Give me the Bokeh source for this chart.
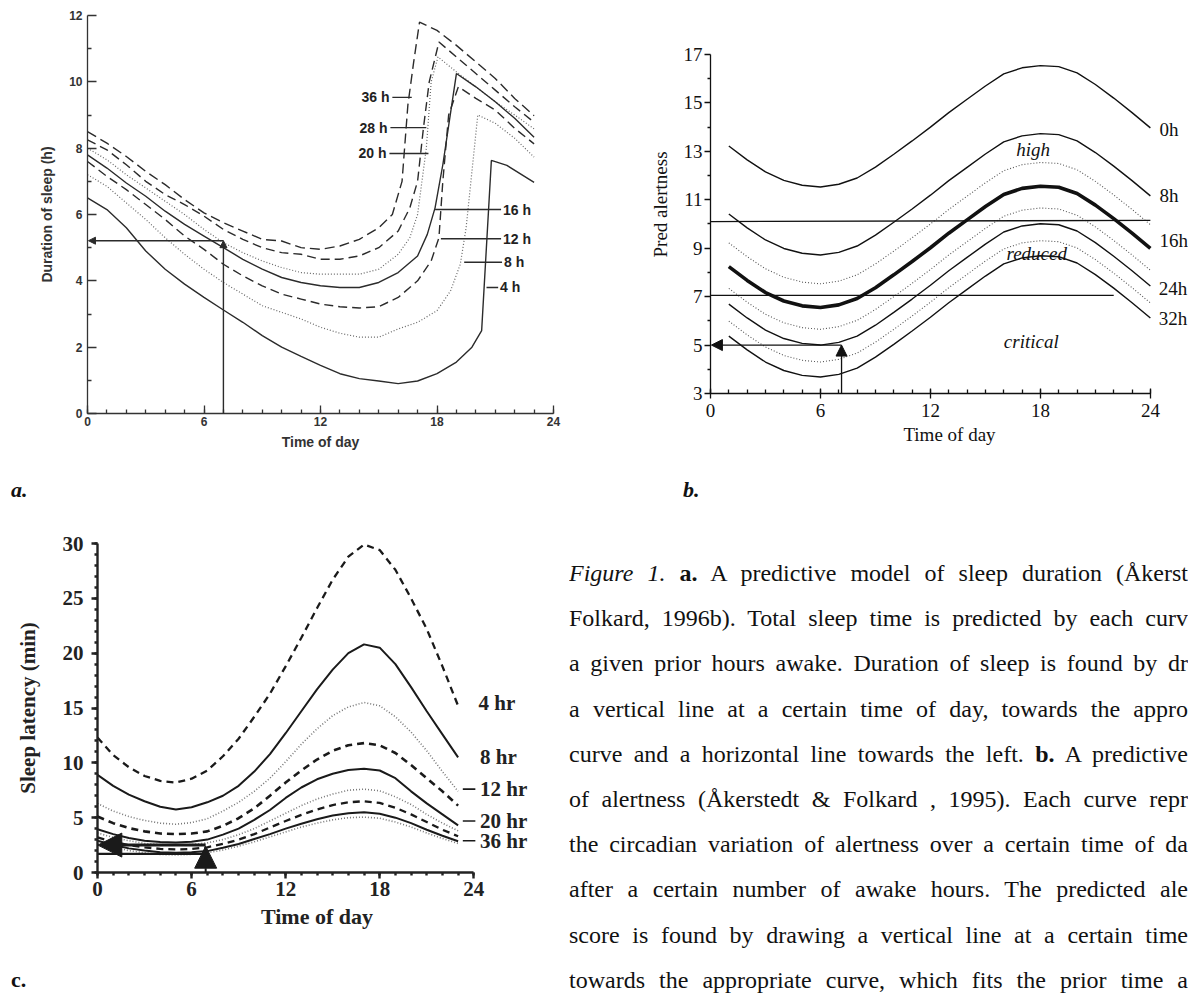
from bokeh.plotting import figure
from bokeh.models import Range1d, FixedTicker, Arrow, NormalHead, Div
from bokeh.layouts import row, column
from bokeh.embed import file_html
from bokeh.resources import INLINE
from bokeh.core.properties import value

SANS = "Liberation Sans"
SERIF = "Liberation Serif"

# ================= panel a : predicted sleep duration (h) =================
a_x_36h = [0, 1, 2, 3, 4, 5, 6, 7, 8, 9, 10, 11, 12, 13, 14, 15, 15.7, 16.2, 16.5, 16.8, 17.1, 18, 19, 20, 21, 22, 23]
a_y_36h = [8.5, 8.15, 7.75, 7.3, 6.9, 6.45, 6.05, 5.75, 5.5, 5.25, 5.2, 5.0, 4.95, 5.05, 5.25, 5.6, 6.0, 7.0, 9.3, 10.6, 11.8, 11.55, 11.1, 10.6, 10.1, 9.5, 8.98]
a_x_28h = [0, 1, 2, 3, 4, 5, 6, 7, 8, 9, 10, 11, 12, 13, 14, 15, 16, 16.6, 17.0, 17.3, 17.6, 18.1, 19, 20, 21, 22, 23]
a_y_28h = [8.25, 7.95, 7.5, 7.0, 6.6, 6.3, 5.95, 5.55, 5.25, 5.0, 4.85, 4.8, 4.65, 4.65, 4.75, 5.0, 5.5, 6.2, 7.0, 8.6, 10.0, 11.2, 10.75, 10.25, 9.75, 9.25, 8.78]
a_x_20h = [0, 1, 2, 3, 4, 5, 6, 7, 8, 9, 10, 11, 12, 13, 14, 15, 16, 16.6, 17.0, 17.45, 17.7, 18.05, 19, 20, 21, 22, 23]
a_y_20h = [8.0, 7.65, 7.2, 6.8, 6.4, 6.0, 5.55, 5.15, 4.85, 4.6, 4.4, 4.25, 4.2, 4.2, 4.2, 4.35, 4.8, 5.3, 6.0, 8.0, 10.0, 10.75, 10.3, 9.85, 9.4, 9.0, 8.58]
a_x_16h = [0, 1, 2, 3, 4, 5, 6, 7, 8, 9, 10, 11, 12, 13, 14, 15, 16, 17, 17.5, 17.9, 18.3, 19.0, 20, 21, 22, 23]
a_y_16h = [7.8, 7.4, 6.95, 6.55, 6.1, 5.7, 5.35, 5.0, 4.65, 4.35, 4.1, 3.95, 3.85, 3.8, 3.8, 3.95, 4.25, 4.75, 5.4, 6.2, 7.5, 10.25, 9.85, 9.4, 8.9, 8.33]
a_x_12h = [0, 1, 2, 3, 4, 5, 6, 7, 8, 9, 10, 11, 12, 13, 14, 15, 16, 17, 17.7, 18.1, 18.3, 18.6, 19.1, 20, 21, 22, 23]
a_y_12h = [7.6, 7.15, 6.75, 6.3, 5.85, 5.35, 4.95, 4.5, 4.15, 3.85, 3.6, 3.45, 3.3, 3.22, 3.18, 3.22, 3.5, 4.0, 4.6, 5.3, 7.0, 9.0, 9.85, 9.5, 9.15, 8.6, 8.13]
a_x_8h = [0, 1, 2, 3, 4, 5, 6, 7, 8, 9, 10, 11, 12, 13, 14, 15, 16, 17, 18, 18.7, 19.2, 19.5, 20.1, 21, 22, 23]
a_y_8h = [7.2, 6.85, 6.35, 5.85, 5.3, 4.8, 4.35, 3.95, 3.6, 3.25, 3.05, 2.85, 2.6, 2.42, 2.3, 2.3, 2.55, 2.75, 3.1, 3.7, 4.5, 5.6, 9.0, 8.75, 8.3, 7.73]
a_x_4h = [0, 1, 2, 3, 4, 5, 6, 7, 8, 9, 10, 11, 12, 13, 14, 15, 16, 17, 18, 19, 19.8, 20.3, 20.8, 21.6, 23]
a_y_4h = [6.5, 6.15, 5.6, 4.9, 4.35, 3.9, 3.5, 3.12, 2.75, 2.35, 2.0, 1.72, 1.45, 1.2, 1.05, 0.98, 0.9, 0.98, 1.2, 1.55, 2.0, 2.5, 7.63, 7.48, 6.97]
a_xticks = [0, 6, 12, 18, 24]
a_yticks = [0, 2, 4, 6, 8, 10, 12]
a_example_time = 7
a_example_sleep = 5.21

# ================= panel b : predicted alertness =================
b_hours = [1, 2, 3, 4, 5, 6, 7, 8, 9, 10, 11, 12, 13, 14, 15, 16, 17, 18, 19, 20, 21, 22, 23, 24]
b_0h = [13.22, 12.65, 12.15, 11.8, 11.6, 11.53, 11.64, 11.9, 12.35, 12.88, 13.43, 14.0, 14.6, 15.15, 15.7, 16.2, 16.45, 16.54, 16.5, 16.24, 15.76, 15.2, 14.6, 13.97]
b_8h = [10.41, 9.84, 9.34, 8.99, 8.79, 8.72, 8.83, 9.09, 9.54, 10.07, 10.62, 11.19, 11.79, 12.34, 12.89, 13.39, 13.64, 13.73, 13.69, 13.43, 12.95, 12.39, 11.79, 11.16]
b_12h = [9.22, 8.65, 8.15, 7.8, 7.6, 7.53, 7.64, 7.9, 8.35, 8.88, 9.43, 10.0, 10.6, 11.15, 11.7, 12.2, 12.45, 12.54, 12.5, 12.24, 11.76, 11.2, 10.6, 9.97]
b_16h = [8.24, 7.67, 7.17, 6.82, 6.62, 6.55, 6.66, 6.92, 7.37, 7.9, 8.45, 9.02, 9.62, 10.17, 10.72, 11.22, 11.47, 11.56, 11.52, 11.26, 10.78, 10.22, 9.62, 8.99]
b_20h = [7.34, 6.77, 6.27, 5.92, 5.72, 5.65, 5.76, 6.02, 6.47, 7.0, 7.55, 8.12, 8.72, 9.27, 9.82, 10.32, 10.57, 10.66, 10.62, 10.36, 9.88, 9.32, 8.72, 8.09]
b_24h = [6.69, 6.12, 5.62, 5.27, 5.07, 5.0, 5.11, 5.37, 5.82, 6.35, 6.9, 7.47, 8.07, 8.62, 9.17, 9.67, 9.92, 10.01, 9.97, 9.71, 9.23, 8.67, 8.07, 7.44]
b_28h = [5.99, 5.42, 4.92, 4.57, 4.37, 4.3, 4.41, 4.67, 5.12, 5.65, 6.2, 6.77, 7.37, 7.92, 8.47, 8.97, 9.22, 9.31, 9.27, 9.01, 8.53, 7.97, 7.37, 6.74]
b_32h = [5.37, 4.8, 4.3, 3.95, 3.75, 3.68, 3.79, 4.05, 4.5, 5.03, 5.58, 6.15, 6.75, 7.3, 7.85, 8.35, 8.6, 8.69, 8.65, 8.39, 7.91, 7.35, 6.75, 6.12]
b_high_level = 10.1
b_critical_level = 7.05
b_xticks = [0, 6, 12, 18, 24]
b_yticks = [3, 5, 7, 9, 11, 13, 15, 17]
b_example_time = 7.15
b_example_alert = 5.0

# ================= panel c : sleep latency (min) =================
c_hours = [0, 1, 2, 3, 4, 5, 6, 7, 8, 9, 10, 11, 12, 13, 14, 15, 16, 17, 18, 19, 20, 21, 22, 23]
c_4hr = [12.3, 10.7, 9.6, 8.8, 8.35, 8.2, 8.55, 9.3, 10.6, 12.2, 14.2, 16.3, 18.8, 21.4, 24.1, 26.7, 28.8, 29.9, 29.4, 27.6, 25.0, 22.2, 18.8, 15.2]
c_8hr = [8.9, 7.9, 7.1, 6.5, 6.0, 5.75, 5.95, 6.4, 7.0, 7.9, 9.2, 10.8, 12.7, 14.7, 16.7, 18.5, 20.0, 20.8, 20.5, 19.0, 16.9, 14.7, 12.6, 10.5]
c_12hr = [6.3, 5.6, 5.1, 4.75, 4.5, 4.4, 4.55, 4.9, 5.6, 6.4, 7.4, 8.6, 10.1, 11.7, 13.1, 14.3, 15.1, 15.5, 15.2, 14.2, 12.8, 11.1, 9.2, 7.4]
c_16hr = [5.1, 4.5, 4.05, 3.75, 3.55, 3.5, 3.55, 3.75, 4.25, 4.95, 5.85, 7.0, 8.2, 9.3, 10.3, 11.1, 11.6, 11.8, 11.6, 10.9, 9.8, 8.6, 7.4, 6.1]
c_20hr = [3.95, 3.5, 3.15, 2.9, 2.78, 2.74, 2.8, 3.0, 3.45, 4.0, 4.8, 5.7, 6.8, 7.75, 8.5, 9.0, 9.35, 9.45, 9.3, 8.6, 7.4, 6.3, 5.3, 4.3]
c_24hr = [3.6, 3.2, 2.9, 2.65, 2.55, 2.5, 2.55, 2.7, 3.0, 3.45, 4.0, 4.7, 5.4, 6.1, 6.7, 7.15, 7.5, 7.6, 7.45, 6.9, 6.2, 5.3, 4.5, 3.8]
c_28hr = [3.2, 2.8, 2.5, 2.3, 2.15, 2.1, 2.15, 2.3, 2.6, 3.0, 3.5, 4.1, 4.7, 5.25, 5.75, 6.15, 6.4, 6.5, 6.35, 5.9, 5.3, 4.6, 3.9, 3.3]
c_32hr = [2.9, 2.5, 2.2, 2.0, 1.85, 1.8, 1.85, 1.95, 2.25, 2.6, 3.05, 3.5, 4.0, 4.45, 4.85, 5.2, 5.4, 5.5, 5.35, 5.0, 4.5, 3.9, 3.35, 2.85]
c_36hr = [2.6, 2.3, 2.0, 1.8, 1.65, 1.6, 1.65, 1.8, 2.05, 2.4, 2.8, 3.25, 3.7, 4.15, 4.5, 4.8, 5.0, 5.05, 4.95, 4.6, 4.15, 3.6, 3.1, 2.65]
c_xticks = [0, 6, 12, 18, 24]
c_yticks = [0, 5, 10, 15, 20, 25, 30]
c_example_time = 6.9
c_example_latency = 2.5


def base_fig(fw, fh, xr, yr, left, right, top, bottom):
    p = figure(output_backend="svg", toolbar_location=None,
               frame_width=fw, frame_height=fh,
               x_range=Range1d(*xr), y_range=Range1d(*yr),
               min_border_left=left, min_border_right=right,
               min_border_top=top, min_border_bottom=bottom)
    p.outline_line_color = None
    p.xgrid.visible = False
    p.ygrid.visible = False
    p.background_fill_color = "white"
    p.border_fill_color = "white"
    return p


def style_axis(ax, font, tick_size, label_size, color, style, width):
    ax.major_label_text_font = font
    ax.major_label_text_font_size = tick_size
    ax.major_label_text_font_style = style
    ax.major_label_text_color = color
    ax.axis_label_text_font = font
    ax.axis_label_text_font_size = label_size
    ax.axis_label_text_font_style = style
    ax.axis_label_text_color = color
    ax.axis_line_color = color
    ax.axis_line_width = width
    ax.major_tick_line_color = color
    ax.major_tick_line_width = width
    ax.minor_tick_line_color = color
    ax.minor_tick_line_width = width


def set_ticks(ax, major, minor, mi, mo, ni, no):
    ax.ticker = FixedTicker(ticks=major, minor_ticks=minor)
    ax.major_tick_in = mi
    ax.major_tick_out = mo
    ax.minor_tick_in = ni
    ax.minor_tick_out = no


# ---------------------------------------------------------------- panel a
pa = base_fig(466, 398, (0, 24), (0, 12), 79, 77, 7, 57)
xa, ya = pa.xaxis[0], pa.yaxis[0]
style_axis(xa, SANS, "12px", "14px", "#333333", "bold", 1.3)
style_axis(ya, SANS, "12px", "14px", "#333333", "bold", 1.3)
set_ticks(xa, a_xticks, list(range(0, 25)), 8, 0, 4, 0)
set_ticks(ya, a_yticks, [1, 3, 5, 7, 9, 11], 9, 0, 4, 0)
xa.axis_label = "Time of day"
xa.major_label_standoff = 3
xa.axis_label_standoff = 5
ya.axis_label = "Duration of sleep (h)"
ya.major_label_standoff = 5
ya.axis_label_standoff = 11

A_INK = "#2b2b2b"
a_curves = [
    (a_x_36h, a_y_36h, "10 5", 1.4, A_INK),
    (a_x_28h, a_y_28h, "9 5", 1.4, A_INK),
    (a_x_20h, a_y_20h, "1 2", 1.2, "#666666"),
    (a_x_16h, a_y_16h, "solid", 1.4, A_INK),
    (a_x_12h, a_y_12h, "9 5", 1.4, A_INK),
    (a_x_8h, a_y_8h, "1 2", 1.2, "#666666"),
    (a_x_4h, a_y_4h, "solid", 1.4, A_INK),
]
for xs, ys, dash, w, col in a_curves:
    pa.line(xs, ys, line_dash=dash, line_width=w, line_color=col)

a_lab_l = ["36 h", "28 h", "20 h"]
a_lab_l_x = [15.55, 15.45, 15.4]
a_lab_l_y = [9.53, 8.62, 7.84]
a_lead_l_x0 = [15.7, 15.6, 15.55]
a_lead_l_x1 = [16.7, 17.45, 17.56]
a_lab_r = ["16 h", "12 h", "8 h", "4 h"]
a_lab_r_x = [21.4, 21.4, 21.45, 21.25]
a_lab_r_y = [6.15, 5.27, 4.56, 3.8]
a_lead_r_x0 = [17.9, 18.2, 19.4, 20.55]
a_lead_r_x1 = [21.3, 21.3, 21.35, 21.15]
pa.segment(a_lead_l_x0, a_lab_l_y, a_lead_l_x1, a_lab_l_y, line_color=A_INK, line_width=1.4)
pa.segment(a_lead_r_x0, a_lab_r_y, a_lead_r_x1, a_lab_r_y, line_color=A_INK, line_width=1.4)
pa.text(a_lab_l_x, a_lab_l_y, text=a_lab_l, text_align="right", text_baseline="middle",
        text_font=value(SANS), text_font_size="14px", text_font_style="bold", text_color="#222222")
pa.text(a_lab_r_x, a_lab_r_y, text=a_lab_r, text_align="left", text_baseline="middle",
        text_font=value(SANS), text_font_size="14px", text_font_style="bold", text_color="#222222")
pa.add_layout(Arrow(end=NormalHead(size=7, fill_color=A_INK, line_color=A_INK),
                    x_start=a_example_time, y_start=0, x_end=a_example_time, y_end=a_example_sleep,
                    line_color=A_INK, line_width=1.4))
pa.add_layout(Arrow(end=NormalHead(size=7, fill_color=A_INK, line_color=A_INK),
                    x_start=a_example_time, y_start=a_example_sleep, x_end=0.05, y_end=a_example_sleep,
                    line_color=A_INK, line_width=1.4))

# ---------------------------------------------------------------- panel b
# frame top shares panel a's top; the y axis itself is bounded to 3..17
pb = base_fig(478, 378, (0, 26.08), (3, 18.61), 80, 0, 7, 77)
xb, yb = pb.xaxis[0], pb.yaxis[0]
style_axis(xb, SERIF, "19px", "19px", "#111111", "normal", 1.3)
style_axis(yb, SERIF, "19px", "19px", "#111111", "normal", 1.3)
xb.bounds = (0, 24)
yb.bounds = (3, 17)
set_ticks(xb, b_xticks, list(range(0, 25)), 5, 5, 4, 0)
set_ticks(yb, b_yticks, [4, 6, 8, 10, 12, 14, 16], 0, 6, 0, 3)
xb.axis_label = "Time of day"
xb.major_label_standoff = 5
xb.axis_label_standoff = 4
yb.axis_label = "Pred alertness"
yb.major_label_standoff = 2
yb.axis_label_standoff = 10

B_INK = "#111111"
for ys in (b_0h, b_8h, b_24h, b_32h):
    pb.line(b_hours, ys, line_color=B_INK, line_width=1.4)
pb.line(b_hours, b_16h, line_color=B_INK, line_width=3.6)
for ys in (b_12h, b_20h, b_28h):
    pb.line(b_hours, ys, line_color="#555555", line_width=1.1, line_dash="1 2")

pb.line([0, 24], [b_high_level, b_high_level + 0.05], line_color=B_INK, line_width=1.3)
pb.line([0, 22], [b_critical_level, b_critical_level], line_color=B_INK, line_width=1.3)

b_zone_names = ["high", "reduced", "critical"]
b_zone_x = [17.6, 17.8, 17.5]
b_zone_y = [13.08, 8.79, 5.13]
pb.text(b_zone_x, b_zone_y, text=b_zone_names, text_align="center", text_baseline="middle",
        text_font=value(SERIF), text_font_size="19px", text_font_style="italic", text_color=B_INK)
b_curve_names = ["0h", "8h", "16h", "24h", "32h"]
b_name_x = [24.5, 24.5, 24.5, 24.45, 24.45]
b_name_y = [13.9, 11.16, 9.31, 7.32, 6.09]
pb.text(b_name_x, b_name_y, text=b_curve_names, text_align="left", text_baseline="middle",
        text_font=value(SERIF), text_font_size="19px", text_color=B_INK)
pb.add_layout(Arrow(end=NormalHead(size=11, fill_color=B_INK, line_color=B_INK),
                    x_start=b_example_time, y_start=3, x_end=b_example_time, y_end=b_example_alert,
                    line_color=B_INK, line_width=1.3))
pb.add_layout(Arrow(end=NormalHead(size=11, fill_color=B_INK, line_color=B_INK),
                    x_start=b_example_time, y_start=b_example_alert, x_end=0.05, y_end=b_example_alert,
                    line_color=B_INK, line_width=1.3))

# ---------------------------------------------------------------- panel c
pc = base_fig(439, 329, (0, 28), (0, 30), 89, 33, 38, 73)
xc, yc = pc.xaxis[0], pc.yaxis[0]
style_axis(xc, SERIF, "21px", "22px", "#222222", "bold", 2.4)
style_axis(yc, SERIF, "21px", "21px", "#222222", "bold", 2.4)
xc.bounds = (0, 24)
yc.bounds = (0, 30)
set_ticks(xc, c_xticks, list(range(0, 25)), 0, 6, 0, 3)
set_ticks(yc, c_yticks, list(range(0, 31)), 0, 6, 0, 3)
xc.axis_label = "Time of day"
xc.major_label_standoff = 3
xc.axis_label_standoff = 5
yc.axis_label = "Sleep latency (min)"
yc.major_label_standoff = 8
yc.axis_label_standoff = 20

C_INK = "#1a1a1a"
c_styles = [
    (c_4hr, "7 5", 2.3, C_INK),
    (c_8hr, "solid", 2.0, C_INK),
    (c_12hr, "1 2", 1.6, "#777777"),
    (c_16hr, "7 5", 2.6, C_INK),
    (c_20hr, "solid", 2.0, C_INK),
    (c_24hr, "1 2", 1.6, "#777777"),
    (c_28hr, "7 5", 2.3, C_INK),
    (c_32hr, "solid", 2.0, C_INK),
    (c_36hr, "1 2", 1.6, "#777777"),
]
for ys, dash, w, col in c_styles:
    pc.line(c_hours, ys, line_dash=dash, line_width=w, line_color=col)

c_names = ["4 hr", "8 hr", "12 hr", "20 hr", "36 hr"]
c_name_x = [24.3, 24.4, 24.4, 24.4, 24.4]
c_name_y = [15.5, 10.5, 7.6, 4.7, 2.9]
c_lead_y = [7.6, 4.7, 2.9]
pc.segment([23.3, 23.3, 23.3], c_lead_y, [24.1, 24.1, 24.1], c_lead_y, line_color=C_INK, line_width=1.6)
pc.text(c_name_x, c_name_y, text=c_names, text_align="left", text_baseline="middle",
        text_font=value(SERIF), text_font_size="21px", text_font_style="bold", text_color="#222222")
pc.line([0, c_example_time], [1.7, 1.7], line_color=C_INK, line_width=2.2)
pc.add_layout(Arrow(end=NormalHead(size=24, fill_color=C_INK, line_color=C_INK),
                    x_start=c_example_time, y_start=c_example_latency, x_end=0.02, y_end=c_example_latency,
                    line_color=C_INK, line_width=3))
pc.add_layout(Arrow(end=NormalHead(size=22, fill_color=C_INK, line_color=C_INK),
                    x_start=c_example_time, y_start=0, x_end=c_example_time, y_end=2.4,
                    line_color=C_INK, line_width=2))

# ---------------------------------------------------------------- panel letters and caption
FONT = "font-family:'Liberation Serif';"


def letter_div(txt, width, height, left, top, italic):
    st = "italic" if italic else "normal"
    html = ('<div style="position:relative;width:%dpx;height:%dpx;overflow:hidden;">'
            '<div style="position:absolute;left:%dpx;top:%dpx;%sfont-size:22px;line-height:24px;'
            'font-weight:bold;font-style:%s;color:#111;">%s</div></div>') % (width, height, left, top, FONT, st, txt)
    return Div(text=html, width=width, height=height, margin=(0, 0, 0, 0))


div_a = letter_div("a.", 672, 35, 3, 8, True)
div_b = letter_div("b.", 508, 35, 3, 8, True)
div_c = letter_div("c.", 561, 48, 3, 23, False)

cap_lines = [
    '<i>Figure 1.</i> <b>a.</b> A predictive model of sleep duration (Åkerst',
    'Folkard, 1996b). Total sleep time is predicted by each curv',
    'a given prior hours awake. Duration of sleep is found by dr',
    'a vertical line at a certain time of day, towards the appro',
    'curve and a horizontal line towards the left. <b>b.</b> A predictive',
    'of alertness (Åkerstedt &amp; Folkard , 1995). Each curve repr',
    'the circadian variation of alertness over a certain time of da',
    'after a certain number of awake hours. The predicted ale',
    'score is found by drawing a vertical line at a certain time',
    'towards the appropriate curve, which fits the prior time a',
]
cap_w, cap_h = 619, 488
parts = ['<div style="position:relative;width:%dpx;height:%dpx;overflow:hidden;">' % (cap_w, cap_h)]
for i, ln in enumerate(cap_lines):
    top = 55 + 45.2 * i
    parts.append('<div style="position:absolute;left:0;top:%.1fpx;width:%dpx;height:26px;line-height:26px;'
                 '%sfont-size:24px;color:#111;text-align:justify;text-align-last:justify;overflow:hidden;">%s</div>'
                 % (top, cap_w, FONT, ln))
parts.append('</div>')
div_cap = Div(text="".join(parts), width=cap_w, height=cap_h, margin=(0, 0, 0, 0))

layout = column(row(pa, pb), row(div_a, div_b), row(column(pc, div_c), div_cap),
                margin=(8, 0, 0, 8))

with open("out.html", "w") as f:
    f.write(file_html(layout, INLINE, title="Figure 1"))
